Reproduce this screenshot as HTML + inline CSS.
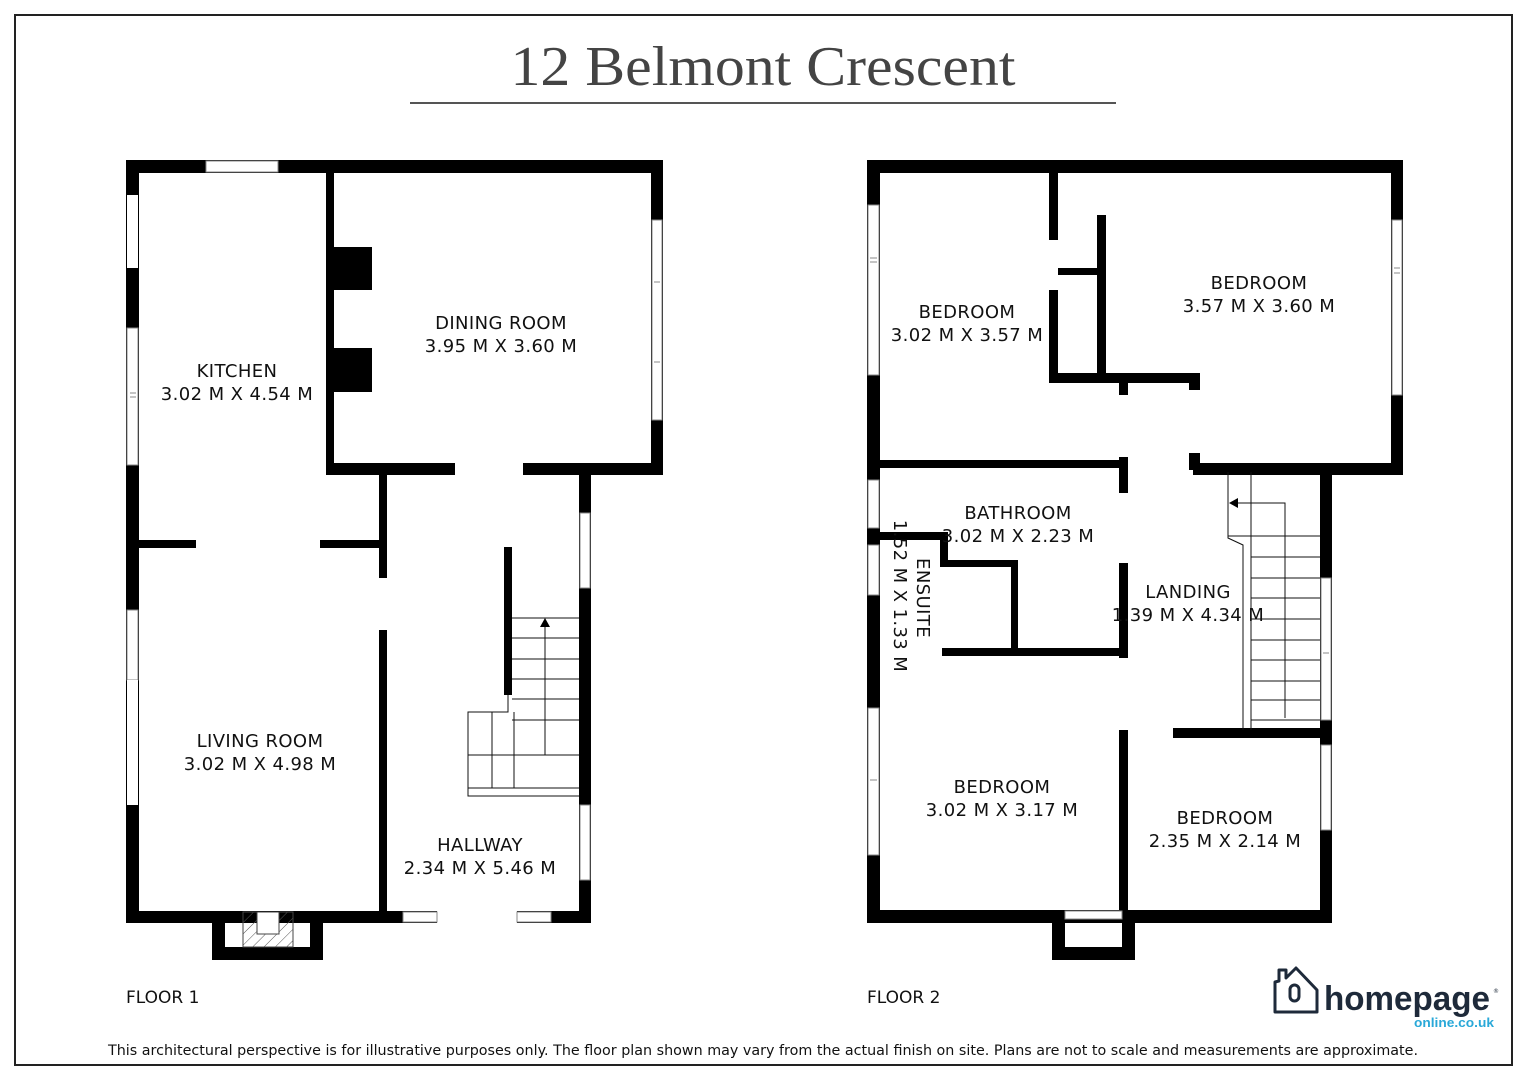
<!DOCTYPE html>
<html><head><meta charset="utf-8"><style>
html,body{margin:0;padding:0;background:#fff}
svg{display:block}
text{font-family:"DejaVu Sans","Liberation Sans",sans-serif}
</style></head><body>
<svg width="1527" height="1080" viewBox="0 0 1527 1080" xmlns="http://www.w3.org/2000/svg">
<defs>
<pattern id="hat" width="8" height="8" patternUnits="userSpaceOnUse" patternTransform="rotate(45)">
<line x1="0" y1="0" x2="0" y2="8" stroke="#555" stroke-width="1"/></pattern>
</defs>
<rect x="15" y="15" width="1497" height="1050" fill="none" stroke="#222" stroke-width="2"/>
<text x="763" y="85" text-anchor="middle" style="font-family:'Liberation Serif',serif" font-size="56" fill="#444" textLength="505" lengthAdjust="spacingAndGlyphs">12 Belmont Crescent</text>
<rect x="410" y="102" width="706" height="2" fill="#555"/>

<g fill="#000">
<rect x="126" y="160" width="537" height="13"/>
<rect x="126" y="160" width="13" height="763"/>
<rect x="651" y="160" width="12" height="315"/>
<rect x="326" y="173" width="8" height="297"/>
<rect x="326" y="463" width="129" height="12"/>
<rect x="523" y="463" width="140" height="12"/>
<rect x="579" y="470" width="12" height="453"/>
<rect x="379" y="470" width="8" height="108"/>
<rect x="379" y="630" width="8" height="290"/>
<rect x="139" y="540" width="57" height="8"/>
<rect x="320" y="540" width="67" height="8"/>
<rect x="126" y="911" width="311" height="12"/>
<rect x="517" y="911" width="74" height="12"/>
<rect x="212" y="911" width="13" height="49"/>
<rect x="310" y="911" width="13" height="49"/>
<rect x="212" y="947" width="111" height="13"/>
<rect x="334" y="247" width="38" height="145"/>
<rect x="504" y="547" width="8" height="148"/>
<rect x="867" y="160" width="536" height="13"/>
<rect x="867" y="160" width="13" height="763"/>
<rect x="1391" y="160" width="12" height="315"/>
<rect x="1193" y="463" width="210" height="12"/>
<rect x="1320" y="470" width="12" height="453"/>
<rect x="867" y="910" width="465" height="13"/>
<rect x="1052" y="910" width="13" height="50"/>
<rect x="1122" y="910" width="13" height="50"/>
<rect x="1052" y="947" width="83" height="13"/>
<rect x="1049" y="173" width="9" height="67"/>
<rect x="1049" y="290" width="9" height="93"/>
<rect x="1097" y="215" width="9" height="165"/>
<rect x="1058" y="268" width="39" height="7"/>
<rect x="1049" y="373" width="151" height="10"/>
<rect x="1119" y="373" width="9" height="22"/>
<rect x="1189" y="373" width="11" height="17"/>
<rect x="1189" y="453" width="11" height="17"/>
<rect x="867" y="460" width="261" height="8"/>
<rect x="1119" y="457" width="9" height="36"/>
<rect x="1119" y="563" width="9" height="95"/>
<rect x="867" y="532" width="81" height="8"/>
<rect x="940" y="532" width="8" height="35"/>
<rect x="940" y="560" width="78" height="7"/>
<rect x="1011" y="560" width="7" height="95"/>
<rect x="942" y="648" width="186" height="8"/>
<rect x="1173" y="728" width="159" height="10"/>
<rect x="1119" y="730" width="9" height="182"/>
</g>

<g fill="#fff" stroke="#888" stroke-width="1">
<rect x="206" y="161" width="72" height="11"/>
<rect x="127" y="195" width="11" height="73" stroke="none"/>
<rect x="127" y="328" width="11" height="137"/>
<rect x="127" y="610" width="11" height="70"/>
<rect x="127" y="680" width="11" height="125" stroke="none"/>
<rect x="652" y="220" width="10" height="200"/>
<rect x="580" y="513" width="10" height="75"/>
<rect x="580" y="805" width="10" height="75"/>
<rect x="403" y="912" width="34" height="10"/>
<rect x="517" y="912" width="34" height="10"/>
<rect x="380" y="578" width="6" height="52" stroke="none"/>
<rect x="868" y="205" width="11" height="170"/>
<rect x="868" y="480" width="11" height="48"/>
<rect x="868" y="545" width="11" height="50"/>
<rect x="868" y="708" width="11" height="147"/>
<rect x="1392" y="220" width="10" height="175"/>
<rect x="1321" y="578" width="10" height="142"/>
<rect x="1321" y="745" width="10" height="85"/>
<rect x="1098" y="174" width="7" height="41" stroke="none"/>
<rect x="1065" y="911" width="57" height="8"/>
</g>
<g stroke="#888" stroke-width="1">
<line x1="130" y1="393" x2="136" y2="393"/><line x1="130" y1="397" x2="136" y2="397"/>
<line x1="654" y1="282" x2="660" y2="282"/><line x1="654" y1="362" x2="660" y2="362"/>
<line x1="870" y1="258" x2="877" y2="258"/><line x1="870" y1="262" x2="877" y2="262"/>
<line x1="1394" y1="268" x2="1400" y2="268"/><line x1="1394" y1="273" x2="1400" y2="273"/>
<line x1="1323" y1="653" x2="1329" y2="653"/>
<line x1="870" y1="780" x2="877" y2="780"/>
</g>
<rect x="334" y="290" width="38" height="58" fill="#fff"/>
<rect x="243" y="912" width="50" height="35" fill="url(#hat)" stroke="#444"/>
<rect x="257" y="912" width="22" height="22" fill="#fff" stroke="#444"/>

<g stroke="#111" stroke-width="1" fill="none">
<line x1="512" y1="618" x2="579" y2="618"/>
<line x1="512" y1="638" x2="579" y2="638"/>
<line x1="512" y1="659" x2="579" y2="659"/>
<line x1="512" y1="679" x2="579" y2="679"/>
<line x1="512" y1="699" x2="579" y2="699"/>
<line x1="512" y1="720" x2="579" y2="720"/>
<polyline points="508,695 508,712 468,712 468,796 579,796"/>
<line x1="468" y1="755" x2="579" y2="755"/>
<line x1="468" y1="788" x2="579" y2="788"/>
<line x1="492" y1="712" x2="492" y2="788"/>
<line x1="514" y1="712" x2="514" y2="788"/>
<polyline points="514,755 545,755 545,626"/>
</g>
<polygon points="545,618 540,627 550,627" fill="#000"/>

<g stroke="#111" stroke-width="1" fill="none">
<polyline points="1228,472 1228,538 1243,545 1243,730"/>
<line x1="1251" y1="472" x2="1251" y2="730"/>
<line x1="1228" y1="536" x2="1320" y2="536"/>
<line x1="1251" y1="557" x2="1320" y2="557"/>
<line x1="1251" y1="578" x2="1320" y2="578"/>
<line x1="1251" y1="598" x2="1320" y2="598"/>
<line x1="1251" y1="619" x2="1320" y2="619"/>
<line x1="1251" y1="640" x2="1320" y2="640"/>
<line x1="1251" y1="660" x2="1320" y2="660"/>
<line x1="1251" y1="681" x2="1320" y2="681"/>
<line x1="1251" y1="700" x2="1320" y2="700"/>
<line x1="1251" y1="720" x2="1320" y2="720"/>
<polyline points="1236,503 1285,503 1285,718"/>
</g>
<polygon points="1229,503 1238,498 1238,508" fill="#000"/>

<g font-size="18" fill="#111" text-anchor="middle" style="letter-spacing:0.4px">
<text x="237" y="377">KITCHEN</text><text x="237" y="400">3.02 M X 4.54 M</text>
<text x="501" y="329">DINING ROOM</text><text x="501" y="352">3.95 M X 3.60 M</text>
<text x="260" y="747">LIVING ROOM</text><text x="260" y="770">3.02 M X 4.98 M</text>
<text x="480" y="851">HALLWAY</text><text x="480" y="874">2.34 M X 5.46 M</text>
<text x="967" y="318">BEDROOM</text><text x="967" y="341">3.02 M X 3.57 M</text>
<text x="1259" y="289">BEDROOM</text><text x="1259" y="312">3.57 M X 3.60 M</text>
<text x="1018" y="519">BATHROOM</text><text x="1018" y="542">3.02 M X 2.23 M</text>
<text x="1188" y="598">LANDING</text><text x="1188" y="621">1.39 M X 4.34 M</text>
<text x="1002" y="793">BEDROOM</text><text x="1002" y="816">3.02 M X 3.17 M</text>
<text x="1225" y="824">BEDROOM</text><text x="1225" y="847">2.35 M X 2.14 M</text>
<text transform="translate(917,598) rotate(90)">ENSUITE</text>
<text transform="translate(894,596) rotate(90)">1.52 M X 1.33 M</text>
</g>
<g font-size="17" fill="#111">
<text x="126" y="1003">FLOOR 1</text>
<text x="867" y="1003">FLOOR 2</text>
</g>
<text x="763" y="1055" text-anchor="middle" font-size="14" fill="#111" textLength="1310" lengthAdjust="spacingAndGlyphs">This architectural perspective is for illustrative purposes only. The floor plan shown may vary from the actual finish on site. Plans are not to scale and measurements are approximate.</text>

<g fill="none" stroke="#1e2a3a" stroke-width="3" stroke-linejoin="round">
<path d="M1275,982 L1275,1012 L1317,1012 L1317,990 L1296,968 L1286,978 L1286,970 L1279,970 L1279,981 Z"/>
<rect x="1290" y="985" width="9" height="16" rx="4.5"/>
</g>
<text x="1324" y="1010" font-size="34" fill="#1e2a3a" textLength="166" lengthAdjust="spacingAndGlyphs" style="font-family:'Liberation Sans',sans-serif;font-weight:bold">homepage</text>
<text x="1493" y="993" font-size="6" fill="#1e2a3a">®</text>
<text x="1494" y="1027" text-anchor="end" font-size="13" fill="#29a8d8" textLength="80" lengthAdjust="spacingAndGlyphs" style="font-family:'Liberation Sans',sans-serif;font-weight:bold">online.co.uk</text>
</svg>
</body></html>
